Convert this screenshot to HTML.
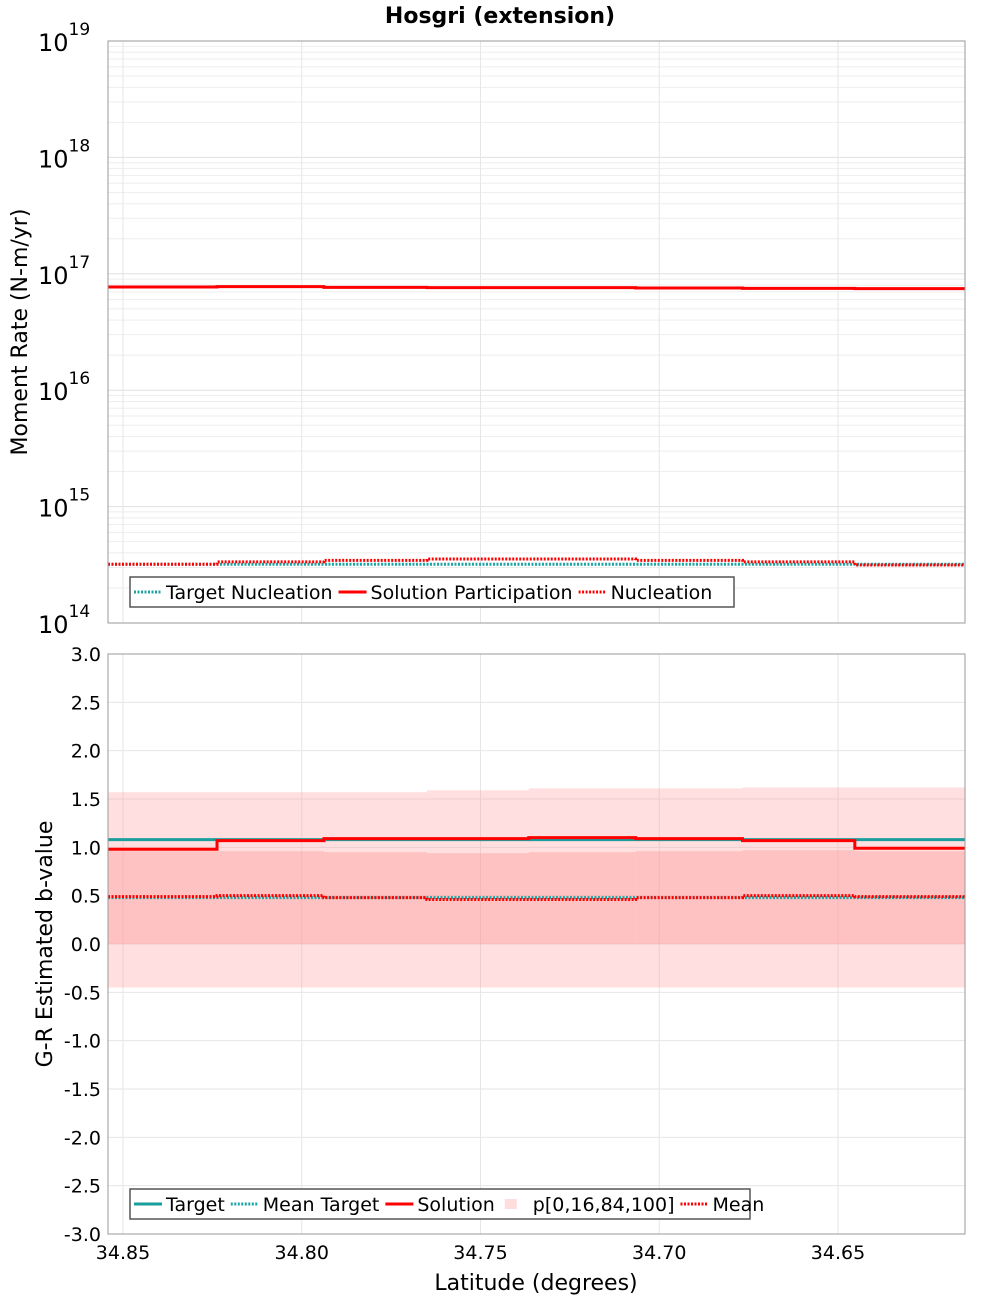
<!DOCTYPE html>
<html><head><meta charset="utf-8">
<style>
body{margin:0;background:#fff;}
svg{display:block;font-family:"DejaVu Sans","Liberation Sans",sans-serif;}
</style></head>
<body>
<svg id="chart" width="1000" height="1300" xmlns="http://www.w3.org/2000/svg">
<text x="500" y="23" text-anchor="middle" font-size="22" font-weight="bold">Hosgri (extension)</text>
<g id="topPanel"></g>
<g id="botPanel"></g>
<text x="27" y="332" transform="rotate(-90 27 332)" text-anchor="middle" font-size="22">Moment Rate (N-m/yr)</text>
<text x="52" y="944" transform="rotate(-90 52 944)" text-anchor="middle" font-size="22">G-R Estimated b-value</text>
<text x="536" y="1290" text-anchor="middle" font-size="22">Latitude (degrees)</text>
</svg>
<script>
const binEdges=[34.8542,34.8237,34.7938,34.7650,34.7365,34.7066,34.6767,34.6453,34.6145];
const xTicks=[34.85,34.80,34.75,34.70,34.65];
const solutionPart=[7.7e16,7.75e16,7.65e16,7.6e16,7.6e16,7.55e16,7.5e16,7.45e16];
const nucleation=[3.2e14,3.35e14,3.45e14,3.55e14,3.55e14,3.45e14,3.35e14,3.15e14];
const targetNucl=[3.2e14,3.2e14,3.2e14,3.2e14,3.2e14,3.2e14,3.2e14,3.2e14];
const bTarget=[1.08,1.08,1.08,1.08,1.08,1.08,1.08,1.08];
const bSolution=[0.98,1.07,1.09,1.09,1.10,1.09,1.07,0.99];
const bMean=[0.49,0.50,0.48,0.46,0.46,0.48,0.50,0.49];
const bMeanTarget=[0.48,0.48,0.48,0.48,0.48,0.48,0.48,0.48];
const pMin=[-0.45,-0.45,-0.45,-0.45,-0.45,-0.45,-0.45,-0.45];
const p16=[0,0,0,0,0,0,0,0];
const p84=[0.96,0.96,0.95,0.94,0.95,0.96,0.97,0.96];
const pMax=[1.57,1.57,1.57,1.59,1.61,1.61,1.62,1.62];
const bTicks=[3.0,2.5,2.0,1.5,1.0,0.5,0.0,-0.5,-1.0,-1.5,-2.0,-2.5,-3.0];
const logTicks=[19,18,17,16,15,14];

const NS='http://www.w3.org/2000/svg';
const L=108,R=965,T1=41,B1=623,T2=654,B2=1234;
const xs=v=>123+(34.85-v)*3575;
const y1=v=>T1+(19-Math.log10(v))*(B1-T1)/5;
const y2=v=>T2+(3-v)*(B2-T2)/6;
function el(p,tag,a){const e=document.createElementNS(NS,tag);for(const k in a)e.setAttribute(k,a[k]);p.appendChild(e);return e;}
const topG=document.getElementById('topPanel'),botG=document.getElementById('botPanel');

for(let d=14;d<19;d++){for(let m=1;m<10;m++){const y=y1(m*Math.pow(10,d));
 const g=el(topG,'line',{x1:L,x2:R,y1:y,y2:y,stroke:m==1?'#e0e0e0':'#eeeeee','stroke-width':1});
 
 }}
xTicks.forEach(v=>{for(const [p,t,b] of [[topG,T1,B1],[botG,T2,B2]]){const g=el(p,'line',{x1:xs(v),x2:xs(v),y1:t,y2:b,stroke:'#e6e6e6'});
 
 }});
bTicks.forEach(v=>{const g=el(botG,'line',{x1:L,x2:R,y1:y2(v),y2:y2(v),stroke:'#e6e6e6'});
 
 });

for(let i=0;i<8;i++){const xa=xs(binEdges[i]),xb=xs(binEdges[i+1]);
 let r=el(botG,'rect',{x:xa,y:y2(pMax[i]),width:xb-xa,height:y2(pMin[i])-y2(pMax[i]),fill:'rgba(255,150,150,0.3)'});
 
 
 r=el(botG,'rect',{x:xa,y:y2(p84[i]),width:xb-xa,height:y2(p16[i])-y2(p84[i]),fill:'rgba(255,150,150,0.4)'});
 
 }

function step(p,arr,yf,color,dash,name){let d='';for(let i=0;i<arr.length;i++){const xa=xs(binEdges[i]),xb=xs(binEdges[i+1]),y=yf(arr[i]);d+=(i?'L':'M')+xa+' '+y+'L'+xb+' '+y;}
 const a={d:d,fill:'none',stroke:color,'stroke-width':3};if(dash)a['stroke-dasharray']='2,1.5';
 const e=el(p,'path',a);
 
 }
step(topG,solutionPart,y1,'#ff0000',null,'solution-participation-line');
step(topG,targetNucl,y1,'#1aa5a5',true,'target-nucleation-line');
step(topG,nucleation,y1,'#ff0000',true,'nucleation-line');
step(botG,bTarget,y2,'#1a9e9e',null,'target-line');
step(botG,bSolution,y2,'#ff0000',null,'solution-line');
step(botG,bMeanTarget,y2,'#1aa5a5',true,'mean-target-line');
step(botG,bMean,y2,'#ff0000',true,'mean-line');

for(const [p,t,b] of [[topG,T1,B1],[botG,T2,B2]]){const f=el(p,'rect',{x:L,y:t,width:R-L,height:b-t,fill:'none',stroke:'#999'});
 
 }

logTicks.forEach(d=>{const t=el(topG,'text',{x:38,y:y1(Math.pow(10,d))+10,'font-size':24});t.textContent='10';
 
 
 const s=el(t,'tspan',{dy:-16,'font-size':17});s.textContent=String(d);});
bTicks.forEach(v=>{const t=el(botG,'text',{x:101,y:y2(v)+7,'text-anchor':'end','font-size':19});t.textContent=v.toFixed(1);
 
 });
xTicks.forEach(v=>{const t=el(botG,'text',{x:xs(v),y:1259,'text-anchor':'middle','font-size':19});t.textContent=v.toFixed(2);
 
 });

function legend(p,x,y,w,items,name){const g=el(p,'g',{});
 
 
 el(g,'rect',{x:x,y:y,width:w,height:30,fill:'#fff',stroke:'#555','stroke-width':1.5});
 let cx=x+4;items.forEach(([lab,col,kind])=>{
  if(kind=='band'){el(g,'rect',{x:cx+4,y:y+10,width:12,height:10,fill:'#fdd'});}
  else{const a={x1:cx,x2:cx+28,y1:y+15,y2:y+15,stroke:col,'stroke-width':3};if(kind=='dot')a['stroke-dasharray']='2,1.5';el(g,'line',a);}
  const t=el(g,'text',{x:cx+32,y:y+22,'font-size':19});t.textContent=lab;
  
  
  let tw=lab.length*11;try{tw=t.getComputedTextLength()||tw;}catch(e){}
  cx+=32+tw+6;});}
legend(topG,130,577,604,[['Target Nucleation','#1aa5a5','dot'],['Solution Participation','#ff0000','line'],['Nucleation','#ff0000','dot']],'top-legend');
legend(botG,130,1189,620,[['Target','#1a9e9e','line'],['Mean Target','#1aa5a5','dot'],['Solution','#ff0000','line'],['p[0,16,84,100]','#fdd','band'],['Mean','#ff0000','dot']],'bottom-legend');
</script>
</body></html>
